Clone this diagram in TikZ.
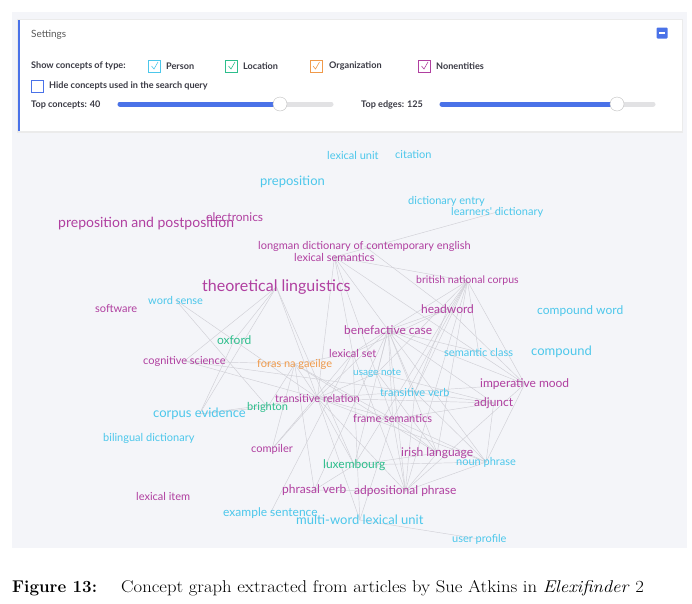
\documentclass[tikz,border=0pt]{standalone}
\usepackage{fontspec}
\newfontfamily\lato{Lato}
\usetikzlibrary{backgrounds}
\definecolor{cPerson}{HTML}{4CC7EB}
\definecolor{cLocation}{HTML}{2DBE8C}
\definecolor{cOrg}{HTML}{F09A4A}
\definecolor{cNonent}{HTML}{B03FA0}
\definecolor{cBlue}{HTML}{4A72E8}
\definecolor{cPanel}{HTML}{F4F5F9}
\definecolor{cEdge}{HTML}{D0D0D6}
\definecolor{cTrack}{HTML}{E2E2E4}
\definecolor{cLabel}{HTML}{3A3A44}
\tikzset{
  concept/.style={anchor=west, inner sep=0pt, font=\lato\fontsize{#1}{#1}\selectfont},
  concept/.default=11,
  person/.style={concept=#1, text=cPerson}, person/.default=11,
  location/.style={concept=#1, text=cLocation}, location/.default=11,
  org/.style={concept=#1, text=cOrg}, org/.default=11,
  nonent/.style={concept=#1, text=cNonent}, nonent/.default=11,
  edge/.style={draw=cEdge, line width=0.45pt},
  uitext/.style={anchor=west, inner sep=0pt, text=cLabel, font=\lato\bfseries\fontsize{9.1}{9.1}\selectfont},
  checkbox/.style={draw=#1, line width=0.8pt, minimum size=12pt, inner sep=0pt}
}
\begin{document}
\begin{tikzpicture}[x=1pt, y=-1pt]
\useasboundingbox (0,0) rectangle (692,603);
\begin{scope}[on background layer]
  \fill[cPanel] (12,12) rectangle (687,548);
\end{scope}

% settings box
\fill[black!8] (17,19) rectangle (683,133);
\fill[white] (18,20) rectangle (682,131);
\draw[cBlue, line width=1.5pt] (19,20) -- (19,131);
\node[uitext, font=\lato\fontsize{10}{10}\selectfont, text=black!65] (settings) at (31,35) {Settings};
\node[fill=cBlue, minimum size=11pt, inner sep=0pt, rounded corners=1pt] (collapse) at (662,33) {};
\draw[white, line width=1.5pt] ([xshift=-3pt]collapse.center) -- ([xshift=3pt]collapse.center);

\node[uitext] (showtype) at (31,66) {Show concepts of type:};
\node[checkbox=cPerson] (boxperson) at (154.5,66) {};
\node[uitext] (lblperson) at (166,66) {Person};
\node[checkbox=cLocation] (boxloc) at (231.5,66) {};
\node[uitext] (lblloc) at (243,66) {Location};
\node[checkbox=cOrg] (boxorg) at (316,66) {};
\node[uitext] (lblorg) at (329,66) {Organization};
\node[checkbox=cNonent] (boxnon) at (424.5,66) {};
\node[uitext] (lblnon) at (436,66) {Nonentities};
\foreach \b/\c in {boxperson/cPerson, boxloc/cLocation, boxorg/cOrg, boxnon/cNonent}
  \draw[\c, line width=0.6pt] ([shift={(-3,0)}]\b.center) -- ([shift={(-0.5,3)}]\b.center) -- ([shift={(3.5,-4)}]\b.center);
\node[checkbox=cBlue] (boxhide) at (37.5,86) {};
\node[uitext] (lblhide) at (49,86) {Hide concepts used in the search query};

\node[uitext] (topconcepts) at (31,105) {Top concepts: 40};
\draw[cTrack, line width=5pt, line cap=round] (120,104) -- (331,104);
\draw[cBlue, line width=5pt, line cap=round] (120,104) -- (280,104);
\node[circle, fill=white, draw=black!25, minimum size=14pt, inner sep=0pt] (knobconcepts) at (280,104) {};
\node[uitext] (topedges) at (361,105) {Top edges: 125};
\draw[cTrack, line width=5pt, line cap=round] (442,104) -- (653,104);
\draw[cBlue, line width=5pt, line cap=round] (442,104) -- (617,104);
\node[circle, fill=white, draw=black!25, minimum size=14pt, inner sep=0pt] (knobedges) at (617,104) {};

% concepts
\node[person] (lexunit) at (327,155) {lexical unit};
\node[person] (citation) at (395,155) {citation};
\node[person=13] (prep) at (260,182) {preposition};
\node[person] (dictentry) at (408,201) {dictionary entry};
\node[person] (learners) at (451,212) {learners' dictionary};
\node[nonent=12] (electronics) at (206,217) {electronics};
\node[nonent=14] (prepost) at (58,224) {preposition and postposition};
\node[nonent] (longman) at (258,246) {longman dictionary of contemporary english};
\node[nonent] (lexsem) at (294,257) {lexical semantics};
\node[nonent=10.5] (bnc) at (416,281) {british national corpus};
\node[nonent=16] (theoling) at (202,287) {theoretical linguistics};
\node[nonent] (software) at (95,309) {software};
\node[person] (wordsense) at (148,300) {word sense};
\node[nonent=12] (headword) at (421,309) {headword};
\node[person=12] (compword) at (537,311) {compound word};
\node[nonent=12] (benefact) at (344,330) {benefactive case};
\node[location=12] (oxford) at (217,340) {oxford};
\node[person] (semclass) at (444,352) {semantic class};
\node[person=13] (compound) at (531,352) {compound};
\node[nonent] (lexset) at (329,353) {lexical set};
\node[nonent] (cogsci) at (143,361) {cognitive science};
\node[org] (foras) at (257,364) {foras na gaeilge};
\node[person=10] (usage) at (353,373) {usage note};
\node[nonent=12] (imper) at (480,384) {imperative mood};
\node[person] (transverb) at (380,392) {transitive verb};
\node[nonent] (transrel) at (275,398) {transitive relation};
\node[nonent=12] (adjunct) at (474,403) {adjunct};
\node[location] (brighton) at (247,407) {brighton};
\node[person=13] (corpusev) at (153,414) {corpus evidence};
\node[nonent] (framesem) at (353,419) {frame semantics};
\node[person] (bilingual) at (103,438) {bilingual dictionary};
\node[nonent] (compiler) at (251,449) {compiler};
\node[nonent=12] (irish) at (401,453) {irish language};
\node[person] (nounphr) at (456,462) {noun phrase};
\node[location=12] (luxemb) at (323,465) {luxembourg};
\node[nonent=12] (phrasal) at (282,490) {phrasal verb};
\node[nonent=12] (adpos) at (354,491) {adpositional phrase};
\node[nonent] (lexitem) at (136,496) {lexical item};
\node[person=12] (example) at (223,513) {example sentence};
\node[person=13] (multiword) at (296,520) {multi-word lexical unit};
\node[person] (userprof) at (452,539) {user profile};

\begin{scope}[on background layer]
  \foreach \a/\b in {lexsem/learners, lexsem/bnc, lexsem/benefact, lexsem/transrel, lexsem/lexset,
      lexsem/imper, lexsem/framesem, longman/headword,
      theoling/cogsci, theoling/transrel, theoling/oxford, theoling/luxemb, theoling/corpusev,
      wordsense/transrel, wordsense/brighton, cogsci/transrel, cogsci/adjunct, cogsci/foras,
      bnc/headword, bnc/benefact, bnc/semclass, bnc/usage, bnc/transverb, bnc/framesem,
      bnc/irish, bnc/imper, bnc/luxemb, bnc/adpos,
      headword/benefact, headword/lexset, headword/transverb, headword/imper,
      benefact/lexset, benefact/usage, benefact/transverb, benefact/transrel, benefact/framesem,
      benefact/irish, benefact/nounphr, benefact/semclass, benefact/luxemb, benefact/adpos,
      benefact/phrasal, benefact/adjunct, benefact/imper,
      foras/transrel, foras/lexset, foras/framesem, foras/brighton, foras/compiler, foras/irish, foras/phrasal,
      lexset/adpos, lexset/multiword, lexset/compiler, lexset/example,
      usage/adjunct, usage/irish, usage/transrel,
      transrel/imper, transrel/adjunct, transrel/framesem, transrel/luxemb, transrel/nounphr, transrel/adpos,
      transverb/nounphr, transverb/adpos,
      framesem/irish, framesem/nounphr, framesem/adpos, framesem/adjunct,
      imper/nounphr, imper/adpos, adjunct/nounphr,
      irish/luxemb, irish/adpos, luxemb/nounphr, luxemb/phrasal, adpos/nounphr, phrasal/adpos,
      multiword/userprof, multiword/transrel, multiword/framesem,
      compiler/transrel, corpusev/brighton, corpusev/transrel, oxford/corpusev}
    \draw[edge] (\a.center) -- (\b.center);
\end{scope}

% caption
\node[anchor=base west, inner sep=0pt, font=\fontsize{17}{17}\selectfont] (figlabel) at (12,592) {\textbf{Figure 13:}};
\node[anchor=base west, inner sep=0pt, font=\fontsize{17}{17}\selectfont] (figtext) at (121,592) {\scalebox{1.1}[1]{Concept graph extracted from articles by Sue Atkins in \emph{Elexifinder} 2}};
\end{tikzpicture}
\end{document}
